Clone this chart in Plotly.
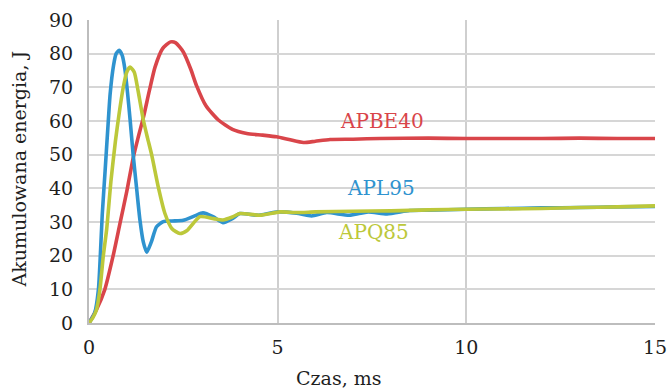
import plotly.graph_objects as go

# Time axis (ms) and accumulated energy (J) for each series
t_apbe40 = [0, 0.2, 0.42, 0.64, 0.82, 1.0, 1.17, 1.3, 1.44, 1.6, 1.75, 1.95, 2.16, 2.3, 2.5, 2.7,
            2.85, 3.1, 3.43, 3.8, 4.18, 4.6, 4.97, 5.3, 5.68, 6.0, 6.39, 7.0, 7.71, 9, 10, 11, 12, 13, 14, 15]
v_apbe40 = [0, 4, 10, 20, 29.5, 39, 49, 55, 61, 69, 76, 81.5, 83.5, 83.2, 80.5, 75.3,
            70.5, 64.5, 60.3, 57.5, 56.3, 55.8, 55.3, 54.5, 53.6, 54, 54.5, 54.6, 54.8, 54.9, 54.8, 54.8, 54.8, 54.9, 54.8, 54.8]

t_apl95 = [0, 0.15, 0.25, 0.3, 0.35, 0.42, 0.5, 0.56, 0.65, 0.72, 0.8, 0.88, 0.95, 1.02, 1.09, 1.17, 1.26, 1.35, 1.44, 1.53,
           1.65, 1.79, 1.97, 2.2, 2.5, 2.8, 3.02, 3.3, 3.55, 3.8, 4.0, 4.5, 5.0, 5.5, 5.9, 6.3, 6.9, 7.4, 7.9,
           8.5, 9, 10, 11, 12, 13, 14, 15]
v_apl95 = [0, 3, 10, 20, 32, 44, 58, 68, 76.5, 80, 81, 79.5, 75.5, 68.5, 60.3, 50, 40.2, 30.6, 24, 21,
           24, 28.6, 30.1, 30.3, 30.5, 31.8, 32.7, 31.5, 29.8, 31, 32.5, 32, 33, 32.6, 31.8, 32.8, 32, 33, 32.4,
           33.4, 33.5, 33.8, 34, 34.2, 34.3, 34.5, 34.6]

t_apq85 = [0, 0.1, 0.2, 0.29, 0.38, 0.47, 0.58, 0.7, 0.8, 0.9, 1.0, 1.09, 1.2, 1.3, 1.44, 1.55, 1.66, 1.84,
           2.01, 2.2, 2.41, 2.6, 2.94, 3.3, 3.55, 3.8, 4.0, 4.53, 5.06, 5.5, 6, 7, 8, 9, 10, 11, 12, 13, 14, 15]
v_apq85 = [0, 1.5, 4, 10, 20, 28, 42, 54, 62.3, 69.5, 74.5, 76, 74.5, 69, 60.3, 55, 50, 40.2,
           32.6, 28, 26.6, 27.5, 31.6, 31, 30.6, 31.5, 32.5, 32, 33, 32.8, 33, 33.2, 33.3, 33.6, 33.8, 33.9, 34, 34.3, 34.5, 34.8]

series_names = ["APBE40", "APL95", "APQ85"]
series_colors = ["#d9454a", "#2f93cf", "#bcc83a"]
label_t = [7.77, 7.74, 7.55]
label_v = [60, 40.1, 27]

x_ticks = [0, 5, 10, 15]
y_ticks = [0, 10, 20, 30, 40, 50, 60, 70, 80, 90]

FONT = "DejaVu Serif"
TXT = "#1e1e1e"
fig = go.Figure()
for name, tt, vv, col in [("APBE40", t_apbe40, v_apbe40, series_colors[0]),
                          ("APL95", t_apl95, v_apl95, series_colors[1]),
                          ("APQ85", t_apq85, v_apq85, series_colors[2])]:
    fig.add_trace(go.Scatter(x=tt, y=vv, mode="lines", name=name, cliponaxis=False,
                             line=dict(color=col, width=3.6, shape="spline", smoothing=0.6)))

for name, lt, lv, col in zip(series_names, label_t, label_v, series_colors):
    fig.add_annotation(x=lt, y=lv, text=name, showarrow=False,
                       font=dict(family=FONT, size=20, color=col))

fig.add_annotation(xref="paper", yref="paper", x=0.44, y=-0.18, text="Czas, ms",
                   showarrow=False, font=dict(family=FONT, size=19, color=TXT),
                   xanchor="center", yanchor="middle")
fig.add_annotation(xref="paper", yref="paper", x=-0.122, y=0.51, text="Akumulowana energia, J",
                   showarrow=False, textangle=-90, font=dict(family=FONT, size=19, color=TXT),
                   xanchor="center", yanchor="middle")

fig.update_layout(
    width=667, height=390,
    margin=dict(l=89, r=12, t=20, b=67, autoexpand=False),
    paper_bgcolor="white", plot_bgcolor="white",
    showlegend=False,
    font=dict(family=FONT, size=19, color=TXT),
    xaxis=dict(range=[0, 15], tickvals=x_ticks, showgrid=True, gridcolor="#cfcfcf", gridwidth=2,
               zeroline=False, showline=True, linecolor="#bdbdbd", linewidth=2, mirror=False,
               ticks="", ticklabelstandoff=6, automargin=False, ticklabeloverflow="allow"),
    yaxis=dict(range=[0, 90], tickvals=y_ticks, showgrid=True, gridcolor="#d6d6d6", gridwidth=2,
               zeroline=False, showline=True, linecolor="#bdbdbd", linewidth=2,
               ticks="", ticklabelstandoff=10, automargin=False),
)
fig.write_html("out.html", config={"displayModeBar": False},
               post_script="document.body.style.margin='0';document.body.style.overflow='hidden';")
